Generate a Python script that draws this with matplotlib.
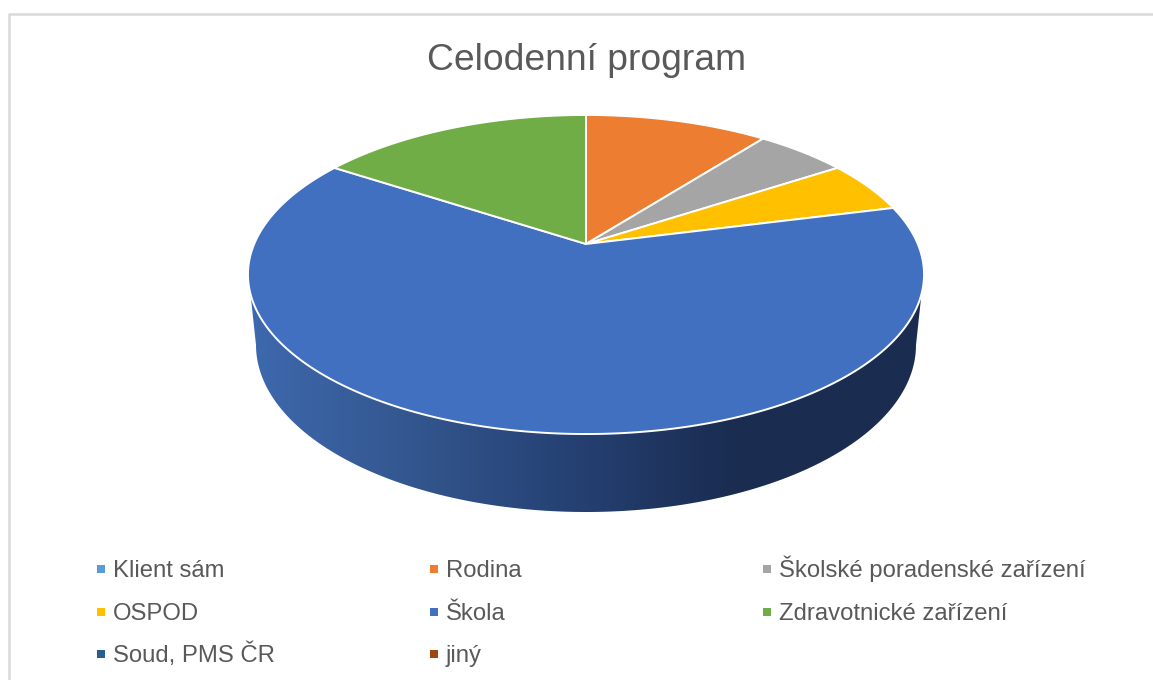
import numpy as np
import matplotlib
matplotlib.use('Agg')
import matplotlib.pyplot as plt
from matplotlib.colors import LinearSegmentedColormap
from matplotlib.patches import Polygon

plt.rcParams['font.family'] = ['Liberation Sans', 'DejaVu Sans']

TITLE = 'Celodenní program'
categories = ['Klient sám', 'Rodina', 'Školské poradenské zařízení',
              'OSPOD', 'Škola', 'Zdravotnické zařízení',
              'Soud, PMS ČR', 'jiný']
values = [0, 2, 1, 1, 12, 3, 0, 0]
colors = ['#5B9BD5', '#ED7D31', '#A5A5A5', '#FFC000',
          '#4270C0', '#70AD47', '#255E91', '#9E480E']

TEXT_COLOR = '#595959'
BORDER_COLOR = '#D9D9D9'

# perspective of the pie top, in image pixels
CX, CY = 586, 244
PERSP = 0.1912
SCALE_X = 331.8
SCALE_Y = 153.7


def project(theta):
    # theta is clockwise from the top of the pie
    x = np.sin(theta)
    y = np.cos(theta)
    w = 1 + PERSP * y
    return CX + SCALE_X * x / w, CY - SCALE_Y * y / w


fig = plt.figure(figsize=(11.53, 6.8), dpi=100)
ax = fig.add_axes([0, 0, 1, 1])
ax.set_xlim(0, 1153)
ax.set_ylim(680, 0)
ax.axis('off')

# chart frame, only top and left are in the crop
ax.plot([9, 9, 1153], [680, 14, 14], color=BORDER_COLOR, lw=1.8, zorder=1)

# side of the pie, gradient clipped to the band under the top ellipse
top_t = np.linspace(np.pi / 2 + 0.17, 3 * np.pi / 2 - 0.17, 200)
top_x, top_y = project(top_t)
low_t = np.linspace(np.pi, 0, 200)
low_x = CX + 330 * np.cos(low_t)
low_y = 345 + 167 * np.sin(low_t)
side_xy = np.column_stack([np.r_[top_x, low_x], np.r_[top_y, low_y]])
side_cmap = LinearSegmentedColormap.from_list(
    'side', [(0.0, '#3E69AE'), (0.22, '#345891'), (0.5, '#243F70'),
             (0.72, '#1A2C50'), (1.0, '#1A2C50')])
side = Polygon(side_xy, closed=True, transform=ax.transData, fc='none', ec='none')
ax.add_patch(side)
im = ax.imshow(np.linspace(0, 1, 256).reshape(1, -1), cmap=side_cmap,
               extent=[248, 925, 520, 260], aspect='auto', zorder=2)
im.set_clip_path(side)
ax.set_xlim(0, 1153)
ax.set_ylim(680, 0)

# top of the pie
edges = np.r_[0, np.cumsum(values)] / np.sum(values) * 2 * np.pi
for i in range(len(values)):
    if values[i] == 0:
        continue
    t = np.linspace(edges[i], edges[i + 1], 240)
    x, y = project(t)
    ax.fill(np.r_[CX, x], np.r_[CY, y], facecolor=colors[i], edgecolor='white',
            lw=1.4, joinstyle='round', zorder=3)

ax.text(586.5, 69.5, TITLE, color=TEXT_COLOR, fontsize=26.8, ha='center', va='baseline')

# legend, three columns
col_x = [101, 434, 767]
row_y = [569, 612, 654]
for i, label in enumerate(categories):
    lx = col_x[i % 3]
    ly = row_y[i // 3]
    ax.scatter([lx], [ly], marker='s', s=26, color=colors[i], linewidths=0, zorder=4)
    ax.text(lx + 12, ly + 8, label, color=TEXT_COLOR, fontsize=17.2, ha='left',
            va='baseline')

fig.savefig('out.png', dpi=100)
